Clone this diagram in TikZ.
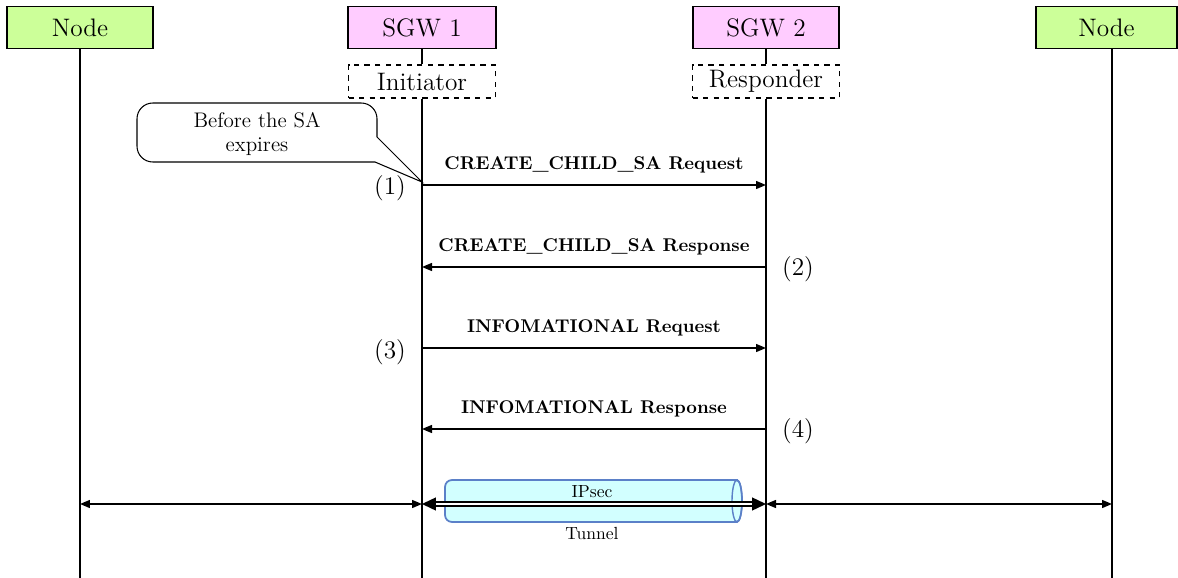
\documentclass[tikz,border=0pt]{standalone}
\usepackage{amsmath,amssymb}
\usetikzlibrary{arrows.meta, positioning, calc}
\definecolor{nodegreen}{RGB}{204,255,153}
\definecolor{sgwpink}{RGB}{255,204,255}
\definecolor{tunnelfill}{RGB}{210,255,255}
\definecolor{tunneledge}{RGB}{91,128,200}

\begin{document}
\begin{tikzpicture}[x=0.02cm, y=-0.02cm,
        entity/.style={draw, line width=0.6pt, minimum height=0.83cm, inner sep=0pt, font=\Large},
        role/.style={draw, dashed, line width=0.6pt, minimum width=2.94cm, minimum height=0.66cm, inner sep=0pt, font=\Large},
        life/.style={line width=0.8pt},
        msg/.style={line width=0.8pt, -{Triangle[length=2mm, width=1.6mm]}},
        msglabel/.style={font=\fontsize{10.5}{12}\selectfont\bfseries},
        num/.style={font=\Large},
        both/.style={line width=0.8pt, {Triangle[length=2mm, width=1.6mm]}-{Triangle[length=2mm, width=1.6mm]}},
        tunnelarrow/.style={double, double distance=1.4pt, line width=0.8pt,
            {Triangle[length=2.8mm, width=2.6mm]}-{Triangle[length=2.8mm, width=2.6mm]}}]
    \useasboundingbox (0,0) rectangle (1178,578);

    % heads
    \node[entity, fill=nodegreen, minimum width=2.92cm] (nodeL) at (80,27.5) {Node};
    \node[entity, fill=sgwpink, minimum width=2.96cm] (sgw1) at (422,27.5) {SGW 1};
    \node[entity, fill=sgwpink, minimum width=2.92cm] (sgw2) at (766,27.5) {SGW 2};
    \node[entity, fill=nodegreen, minimum width=2.82cm] (nodeR) at (1106.5,27.5) {Node};
    \node[role] (init) at (422,81.5) {Initiator};
    \node[role] (resp) at (766,81.5) {Responder};

    % lifelines
    \coordinate (endL) at (80,578);
    \coordinate (end1) at (422,578);
    \coordinate (end2) at (766,578);
    \coordinate (endR) at (1112,578);
    \draw[life] (nodeL.south) -- (endL);
    \draw[life] (sgw1) -- (init);
    \draw[life] (sgw2) -- (resp);
    \draw[life] (init.south) -- (end1);
    \draw[life] (resp.south) -- (end2);
    \draw[life] (nodeR.south -| endR) -- (endR);

    % callout
    \node[font=\large, align=center, inner sep=0pt] (note) at (257,134) {Before the SA\\expires};
    \coordinate (tip) at (422,182);
    \draw[line width=0.6pt] (377,137) [rounded corners=9pt] -- (377,103) -- (137,103) -- (137,162) [sharp corners] -- (375,162) -- (tip) -- cycle;

    % messages
    \draw[msg] (init |- 0,185) -- node[msglabel, above=3pt] (lab1) {CREATE\_CHILD\_SA Request} (resp |- 0,185);
    \draw[msg] (resp |- 0,267) -- node[msglabel, above=3pt] (lab2) {CREATE\_CHILD\_SA Response} (init |- 0,267);
    \draw[msg] (init |- 0,348) -- node[msglabel, above=3pt] (lab3) {INFOMATIONAL Request} (resp |- 0,348);
    \draw[msg] (resp |- 0,429) -- node[msglabel, above=3pt] (lab4) {INFOMATIONAL Response} (init |- 0,429);
    \node[num, anchor=east] (n1) at (412,188) {(1)};
    \node[num, anchor=west] (n2) at (776,269) {(2)};
    \node[num, anchor=east] (n3) at (412,352) {(3)};
    \node[num, anchor=west] (n4) at (776,431) {(4)};

    % tunnel
    \draw[fill=tunnelfill, draw=tunneledge, line width=1pt]
        (737,480) [rounded corners=4pt] -- (445,480) -- (445,522) [sharp corners] -- (737,522)
        arc[start angle=-90, end angle=90, x radius=0.1cm, y radius=0.42cm] -- cycle;
    \draw[draw=tunneledge, line width=0.8pt] (737,501) ellipse[x radius=0.1cm, y radius=0.42cm];
    \node (ipsec) at (592,492) {IPsec};
    \node (tunnel) at (592,533) {Tunnel};
    \draw[tunnelarrow] (init |- 0,504) -- (resp |- 0,504);
    \draw[both] (endL |- 0,504) -- (init |- 0,504);
    \draw[both] (resp |- 0,504) -- (endR |- 0,504);
\end{tikzpicture}
\end{document}
